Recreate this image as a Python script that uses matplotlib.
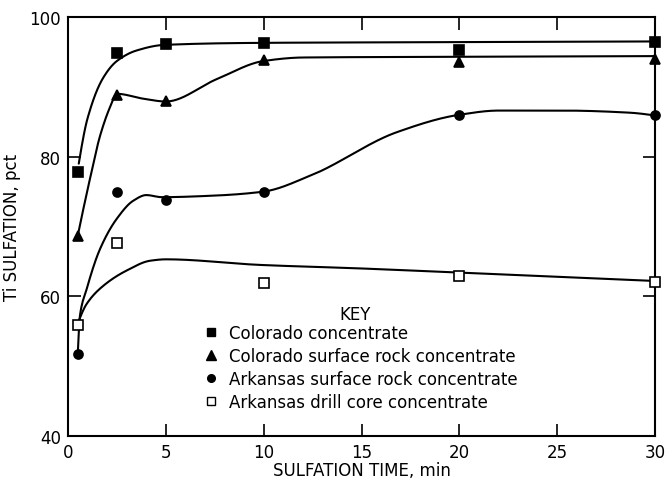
import numpy as np
import matplotlib
matplotlib.use("Agg")
import matplotlib.pyplot as plt
from matplotlib.lines import Line2D

# Measured points (sulfation time, min  ->  Ti sulfation, pct)
time_col_conc = [0.5, 2.5, 5, 10, 20, 30]
ti_col_conc = [77.8, 94.8, 96.1, 96.3, 95.3, 96.4]

time_col_rock = [0.5, 2.5, 5, 10, 20, 30]
ti_col_rock = [68.7, 88.8, 88.0, 93.9, 93.6, 94.0]

time_ark_rock = [0.5, 2.5, 5, 10, 20, 30]
ti_ark_rock = [51.8, 74.9, 73.8, 74.9, 85.9, 86.0]

time_ark_core = [0.5, 2.5, 10, 20, 30]
ti_ark_core = [55.9, 67.7, 61.9, 62.9, 62.0]

# Hand-faired curve knots for each series
curve_x_col_conc = [0.55, 1.0, 1.8, 2.5, 3.5, 4.9, 10, 20, 30]
curve_y_col_conc = [79.0, 85.5, 91.3, 93.7, 95.2, 96.0, 96.3, 96.4, 96.5]

curve_x_col_rock = [0.5, 1.12, 1.64, 2.15, 2.5, 3.85, 5.0, 7.6, 10.0, 12.0, 20, 30]
curve_y_col_rock = [68.7, 76.8, 83.0, 87.1, 89.0, 88.3, 87.9, 91.1, 93.7, 94.2, 94.3, 94.4]

curve_x_ark_rock = [0.5, 0.6, 0.95, 1.64, 2.49, 3.34, 4.0, 4.8, 7.3, 10.0, 12.4,
                    16.8, 20.0, 22.0, 25.3, 28.7, 30]
curve_y_ark_rock = [51.8, 57.0, 61.0, 66.8, 71.1, 73.7, 74.5, 74.2, 74.4, 75.0, 77.3,
                    83.5, 86.0, 86.6, 86.6, 86.3, 85.9]

curve_x_ark_core = [0.55, 0.95, 1.8, 3.0, 4.2, 5.0, 9.8, 14.9, 20, 30]
curve_y_ark_core = [56.5, 58.9, 61.5, 63.7, 65.1, 65.3, 64.5, 64.0, 63.4, 62.2]

labels = ["Colorado concentrate",
          "Colorado surface rock concentrate",
          "Arkansas surface rock concentrate",
          "Arkansas drill core concentrate"]

x_ticks = [0, 5, 10, 15, 20, 25, 30]
y_ticks = [40, 60, 80, 100]


def pchip(xk, yk, xs):
    """Shape-preserving piecewise cubic Hermite interpolation."""
    xk = np.asarray(xk, float)
    yk = np.asarray(yk, float)
    h = np.diff(xk)
    delta = np.diff(yk) / h
    n = len(xk)
    d = np.zeros(n)
    for k in range(1, n - 1):
        if delta[k - 1] * delta[k] <= 0:
            d[k] = 0.0
        else:
            w1 = 2 * h[k] + h[k - 1]
            w2 = h[k] + 2 * h[k - 1]
            d[k] = (w1 + w2) / (w1 / delta[k - 1] + w2 / delta[k])

    def end_slope(h0, h1, d0, d1):
        s = ((2 * h0 + h1) * d0 - h0 * d1) / (h0 + h1)
        if np.sign(s) != np.sign(d0):
            s = 0.0
        elif np.sign(d0) != np.sign(d1) and abs(s) > abs(3 * d0):
            s = 3 * d0
        return s

    d[0] = end_slope(h[0], h[1], delta[0], delta[1])
    d[-1] = end_slope(h[-1], h[-2], delta[-1], delta[-2])

    xs = np.asarray(xs, float)
    idx = np.clip(np.searchsorted(xk, xs) - 1, 0, n - 2)
    t = (xs - xk[idx]) / h[idx]
    h00 = 2 * t**3 - 3 * t**2 + 1
    h10 = t**3 - 2 * t**2 + t
    h01 = -2 * t**3 + 3 * t**2
    h11 = t**3 - t**2
    return (h00 * yk[idx] + h10 * h[idx] * d[idx]
            + h01 * yk[idx + 1] + h11 * h[idx] * d[idx + 1])


plt.rcParams['font.family'] = ['DejaVu Sans']

fig = plt.figure(figsize=(6.66, 4.85), dpi=100)
ax = fig.add_axes([68 / 666, 1 - 437 / 485, (655 - 68) / 666, (437 - 18) / 485])

curves = [(curve_x_col_conc, curve_y_col_conc),
          (curve_x_col_rock, curve_y_col_rock),
          (curve_x_ark_rock, curve_y_ark_rock),
          (curve_x_ark_core, curve_y_ark_core)]
for cx, cy in curves:
    xs = np.linspace(cx[0], cx[-1], 800)
    ax.plot(xs, pchip(cx, cy, xs), color='black', lw=1.5, zorder=2,
            solid_capstyle='round')

styles = [dict(marker='s', mfc='black', ms=6.5),
          dict(marker='^', mfc='black', ms=7.5),
          dict(marker='o', mfc='black', ms=6.5),
          dict(marker='s', mfc='white', ms=6.5)]
series = [(time_col_conc, ti_col_conc), (time_col_rock, ti_col_rock),
          (time_ark_rock, ti_ark_rock), (time_ark_core, ti_ark_core)]
for (tx, ty), st in zip(series, styles):
    ax.plot(tx, ty, linestyle='none', color='black', mec='black', mew=1.2,
            zorder=3, clip_on=False, **st)

ax.set_xlim(0, 30)
ax.set_ylim(40, 100)
ax.set_xticks(x_ticks)
ax.set_yticks(y_ticks)
ax.tick_params(axis='both', which='major', direction='in', length=9,
               width=1.2, labelsize=12, pad=5, top=True, right=True)
for sp in ax.spines.values():
    sp.set_linewidth(1.5)

ax.set_xlabel("SULFATION TIME, min", fontsize=12, labelpad=0)
ax.set_ylabel("Ti SULFATION, pct", fontsize=12, labelpad=6)

handles = [Line2D([], [], linestyle='none', color='black', mec='black', mew=1.0,
                  **dict(st, ms=st['ms'] - 1)) for st in styles]
ax.legend(handles, labels, loc='upper left',
          bbox_to_anchor=((203 - 68) / 587, (437 - 325) / 419),
          frameon=False, fontsize=12, borderpad=0, borderaxespad=0,
          handlelength=1.0, handletextpad=0.55, labelspacing=0.3)
ax.text((355 - 68) / 587, (437 - 315) / 419, "KEY", transform=ax.transAxes,
        ha='center', va='center', fontsize=12)

fig.savefig("out.png", dpi=100, facecolor='white')
